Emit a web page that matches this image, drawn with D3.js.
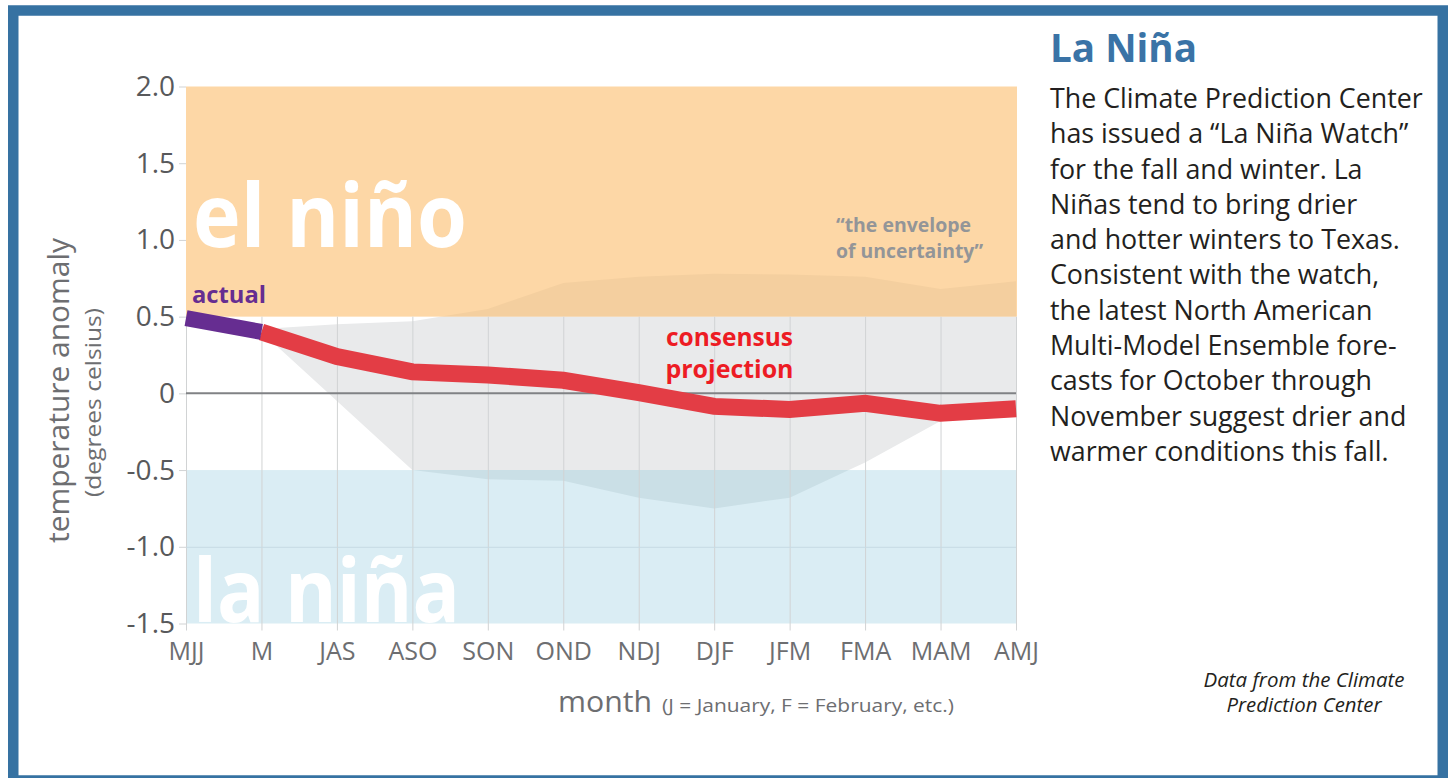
<!DOCTYPE html>
<html>
<head>
<meta charset="utf-8">
<script src="https://cdn.jsdelivr.net/npm/d3@7"></script>
<style>
body { margin: 0; background: #fff; }
svg { display: block; }
text { font-family: "Open Sans", sans-serif; }
</style>
</head>
<body>
<script>
var months = ['MJJ', 'M', 'JAS', 'ASO', 'SON', 'OND', 'NDJ', 'DJF', 'JFM', 'FMA', 'MAM', 'AMJ'];
var yTicks = [2, 1.5, 1, 0.5, 0, -0.5, -1, -1.5];
var actual = [0.49, 0.40, null, null, null, null, null, null, null, null, null, null];
var consensus = [null, 0.40, 0.24, 0.14, 0.12, 0.085, 0.005, -0.085, -0.105, -0.065, -0.13, -0.10];
var envHigh = [null, 0.42, 0.45, 0.47, 0.55, 0.72, 0.76, 0.78, 0.775, 0.76, 0.68, 0.73];
var envLow = [null, 0.40, -0.05, -0.50, -0.56, -0.57, -0.68, -0.75, -0.68, -0.45, -0.18, -0.10];
var elNinoBand = [0.5, 2.0];
var laNinaBand = [-1.5, -0.5];
var noteLines = [
	'The Climate Prediction Center',
	'has issued a \u201cLa Ni\u00f1a Watch\u201d',
	'for the fall and winter. La',
	'Ni\u00f1as tend to bring drier',
	'and hotter winters to Texas.',
	'Consistent with the watch,',
	'the latest North American',
	'Multi-Model Ensemble fore-',
	'casts for October through',
	'November suggest drier and',
	'warmer conditions this fall.'
];

var W = 1450, H = 778;
var svg = d3.select('body').append('svg').attr('width', W).attr('height', H);

var x = d3.scalePoint().domain(months).range([186, 1016]),
	y = d3.scaleLinear().domain([-1.5, 2]).range([623.5, 86.5]),
	xL = x(months[0]), xR = x(months[months.length - 1]);

// squeeze text to the width it has in the original
function fit(sel, w) {
	return sel.attr('textLength', w).attr('lengthAdjust', 'spacingAndGlyphs');
}

// blue frame
svg.append('rect').attr('x', 13.25).attr('y', 10.5).attr('width', 1429.5).attr('height', 770)
	.attr('fill', '#fff').attr('stroke', '#3672a2').attr('stroke-width', 10.5);

// bands
svg.append('rect').attr('x', xL).attr('width', xR - xL + 1)
	.attr('y', y(elNinoBand[1])).attr('height', y(elNinoBand[0]) - y(elNinoBand[1]))
	.attr('fill', '#fdd7a6');
svg.append('rect').attr('x', xL).attr('width', xR - xL + 1)
	.attr('y', y(laNinaBand[1])).attr('height', y(laNinaBand[0]) - y(laNinaBand[1]))
	.attr('fill', '#daedf4');

// envelope of uncertainty, tinted differently in each band
var defs = svg.append('defs');
var clips = [
	{id: 'clip-top', top: 2, bot: 0.5, fill: '#f4cf9f'},
	{id: 'clip-mid', top: 0.5, bot: -0.5, fill: '#e9eaeb'},
	{id: 'clip-bot', top: -0.5, bot: -1.5, fill: '#cadfe6'}
];
clips.forEach(function(c) {
	defs.append('clipPath').attr('id', c.id).append('rect')
		.attr('x', 0).attr('width', W).attr('y', y(c.top)).attr('height', y(c.bot) - y(c.top));
});

var envArea = d3.area()
	.defined(function(d, i) { return envHigh[i] != null; })
	.x(function(d) { return x(d); })
	.y0(function(d, i) { return y(envLow[i]); })
	.y1(function(d, i) { return y(envHigh[i]); });

clips.forEach(function(c) {
	svg.append('path').attr('d', envArea(months)).attr('fill', c.fill)
		.attr('clip-path', 'url(#' + c.id + ')');
});

// vertical gridlines + month labels
var gridBottom = y(-1.5) + 7;
var xAxis = svg.append('g').attr('transform', 'translate(0,' + gridBottom + ')')
	.call(d3.axisBottom(x).tickSize(-(gridBottom - y(0.5))).tickPadding(12));
xAxis.select('.domain').remove();
xAxis.selectAll('line').attr('stroke', '#d1d3d4').attr('stroke-width', 1);
xAxis.selectAll('text').attr('fill', '#6d6e71').style('font-size', '25px');

// faint horizontal gridline
var hGrid = svg.append('g').attr('transform', 'translate(' + xL + ',0)')
	.call(d3.axisLeft(y).tickValues([-1]).tickSize(-(xR - xL)).tickFormat(''));
hGrid.select('.domain').remove();
hGrid.selectAll('line').attr('stroke', '#c6dbe3');

// zero line
svg.append('line').attr('x1', xL).attr('x2', xR).attr('y1', y(0)).attr('y2', y(0))
	.attr('stroke', '#808285').attr('stroke-width', 2);

// y axis
var yAxis = svg.append('g').attr('transform', 'translate(' + xL + ',0)')
	.call(d3.axisLeft(y).tickValues(yTicks).tickSize(7).tickPadding(4)
		.tickFormat(function(d) { return d === 0 ? '0' : d3.format('.1f')(d).replace('\u2212', '-'); }));
yAxis.select('.domain').remove();
yAxis.selectAll('line').attr('stroke', '#d1d3d4');
yAxis.selectAll('text').attr('fill', '#58595b').style('font-size', '28px');

// el nino / la nina words
fit(svg.append('text').attr('x', 193).attr('y', 247).text('el ni\u00f1o')
	.attr('fill', '#fff').attr('font-weight', 700).style('font-size', '88px'), 274);
fit(svg.append('text').attr('x', 193).attr('y', 622).text('la ni\u00f1a')
	.attr('fill', '#fff').attr('font-weight', 700).style('font-size', '88px'), 267);

// lines
var line = function(vals) {
	return d3.line()
		.defined(function(d, i) { return vals[i] != null; })
		.x(function(d) { return x(d); })
		.y(function(d, i) { return y(vals[i]); })(months);
};
svg.append('path').attr('d', line(consensus)).attr('fill', 'none')
	.attr('stroke', '#e33d45').attr('stroke-width', 17);
svg.append('path').attr('d', line(actual)).attr('fill', 'none')
	.attr('stroke', '#662d91').attr('stroke-width', 16);

// annotations
fit(svg.append('text').attr('x', 192).attr('y', 303).text('actual')
	.attr('fill', '#662d91').attr('font-weight', 700).style('font-size', '24px'), 74);

var cons = svg.append('g').attr('fill', '#ed1c24').attr('font-weight', 700)
	.attr('text-anchor', 'middle').style('font-size', '25px');
fit(cons.append('text').attr('x', 729.5).attr('y', 346).text('consensus'), 127);
fit(cons.append('text').attr('x', 729.5).attr('y', 378).text('projection'), 128);

var env = svg.append('g').attr('fill', '#939598').attr('font-weight', 700).style('font-size', '20px');
fit(env.append('text').attr('x', 836).attr('y', 232).text('\u201cthe envelope'), 135);
fit(env.append('text').attr('x', 836).attr('y', 258).text('of uncertainty\u201d'), 147);

// axis titles
var yt = svg.append('g').attr('fill', '#6d6e71').attr('text-anchor', 'middle');
fit(yt.append('text').attr('transform', 'translate(69,390.5) rotate(-90)')
	.style('font-size', '30px').text('temperature anomaly'), 305);
fit(yt.append('text').attr('transform', 'translate(101,402.5) rotate(-90)')
	.style('font-size', '21px').text('(degrees celsius)'), 189);

var xt = svg.append('g').attr('fill', '#6d6e71');
fit(xt.append('text').attr('x', 558).attr('y', 712).style('font-size', '30px').text('month'), 94);
fit(xt.append('text').attr('x', 662).attr('y', 712).style('font-size', '19px')
	.text('(J = January, F = February, etc.)'), 292);

// side note
fit(svg.append('text').attr('x', 1050).attr('y', 62).text('La Ni\u00f1a')
	.attr('fill', '#3a73a6').attr('font-weight', 700).style('font-size', '40px'), 147);

var note = svg.append('g').attr('fill', '#231f20').style('font-size', '26.5px');
note.selectAll('text').data(noteLines).enter().append('text')
	.attr('x', 1050).attr('y', function(d, i) { return 108 + i * 35.3; })
	.text(function(d) { return d; });
// match the narrower original typeface by scaling horizontally
var firstLen = note.select('text').node().getComputedTextLength();
var sx = 373 / firstLen;
note.attr('transform', 'translate(' + (1050 - 1050 * sx) + ',0) scale(' + sx + ',1)');

var src = svg.append('g').attr('fill', '#231f20').attr('font-style', 'italic')
	.attr('text-anchor', 'middle').style('font-size', '20px');
fit(src.append('text').attr('x', 1304).attr('y', 687).text('Data from the Climate'), 201);
fit(src.append('text').attr('x', 1304).attr('y', 712).text('Prediction Center'), 155);
</script>
</body>
</html>
